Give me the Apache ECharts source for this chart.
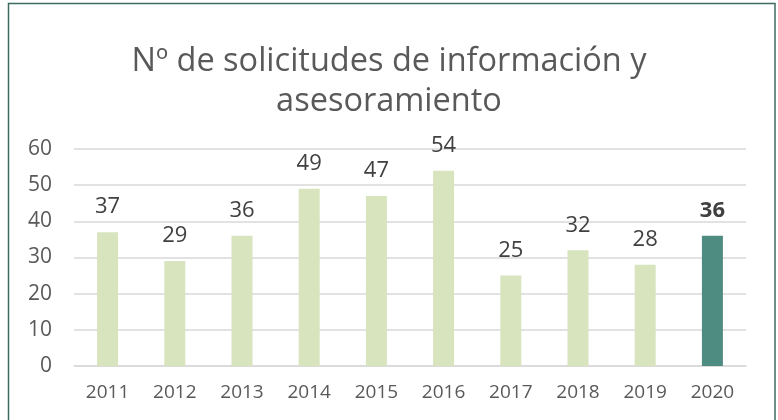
<!DOCTYPE html>
<html><head><meta charset="utf-8">
<script src="https://cdn.jsdelivr.net/npm/echarts@6/dist/echarts.min.js"></script>
<style>html,body{margin:0;padding:0;background:#fff}#c{width:778px;height:420px}</style>
</head><body><div id="c"></div>
<script>
var years = ['2011','2012','2013','2014','2015','2016','2017','2018','2019','2020'];
var values = [37,29,36,49,47,54,25,32,28,36];
var yTicks = [0,10,20,30,40,50,60];
var titleText = 'Nº de solicitudes de información y\nasesoramiento';

var chart = echarts.init(document.getElementById('c'));
var last = values.length - 1;
chart.setOption({
  animation: false,
  graphic: [{type:'rect', shape:{x:8.5,y:3.5,width:766.5,height:430}, style:{fill:'none', stroke:'#3e6b60', lineWidth:1.5}, silent:true}],
  title: {text: titleText, left: 'center', top: 37, textStyle:{fontFamily:'Open Sans', fontWeight:'normal', fontSize:32.5, color:'#595959', lineHeight:40}},
  grid: {left:74, right:32, top:149, bottom:54},
  xAxis: {type:'category', data: years, axisLine:{lineStyle:{color:'#d9d9d9', width:1.5}}, axisTick:{show:false},
    axisLabel:{color:'#595959', fontSize:19, fontFamily:'Open Sans', margin:17}},
  yAxis: {type:'value', min: yTicks[0], max: yTicks[yTicks.length-1], interval: 10,
    axisLine:{show:false}, axisTick:{show:false},
    axisLabel:{color:'#595959', fontSize:21, fontFamily:'Open Sans', margin:22},
    splitLine:{lineStyle:{color:'#d9d9d9', width:1.5}}},
  series: [{type:'bar', barWidth:21,
    data: values.map(function(v,i){
      return i===last ? {value:v, itemStyle:{color:'#4e8b80'}, label:{fontWeight:'bold', color:'#404040'}} : {value:v};
    }),
    itemStyle:{color:'#d7e4bd'},
    label:{show:true, position:'top', distance:14, color:'#404040', fontSize:22, fontFamily:'Open Sans'}}]
});
</script></body></html>
